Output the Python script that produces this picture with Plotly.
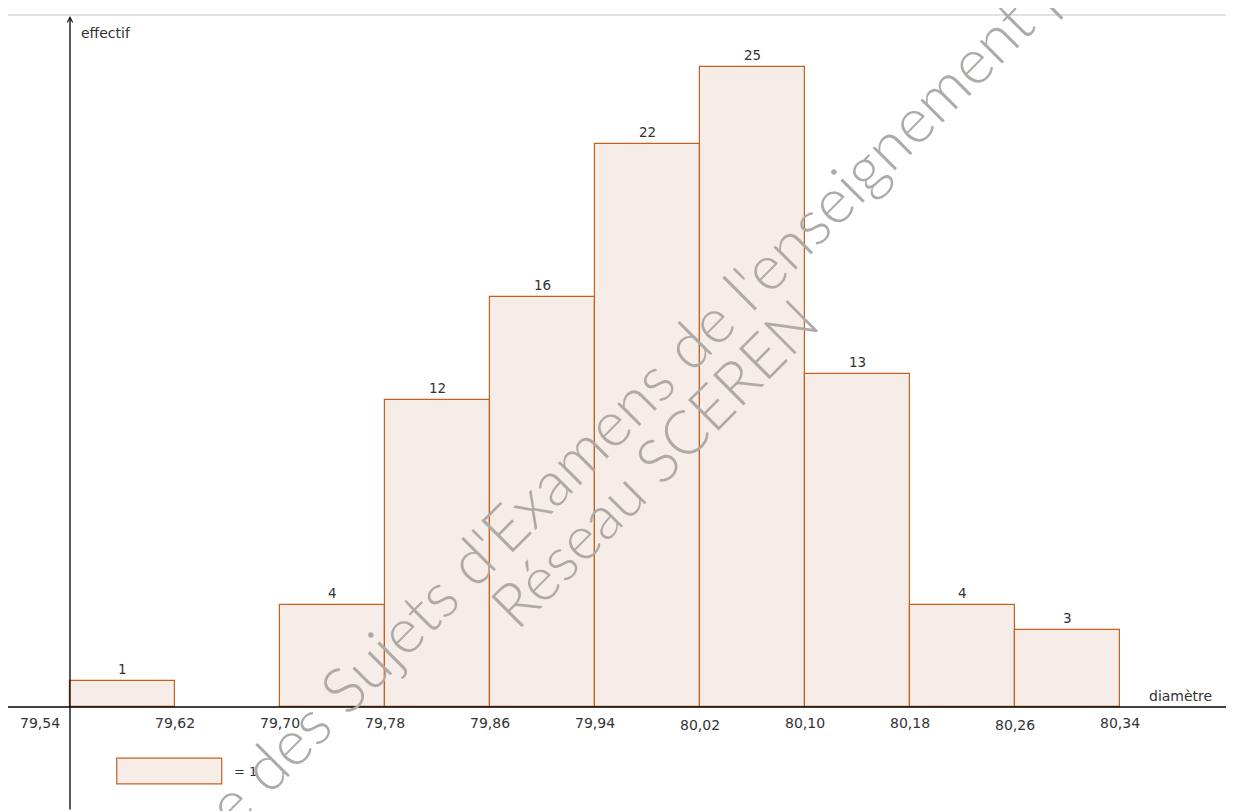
import plotly.graph_objects as go

# ---- data ----
bin_edges = [79.54, 79.62, 79.70, 79.78, 79.86, 79.94, 80.02, 80.10, 80.18, 80.26, 80.34]
counts = [1, 0, 4, 12, 16, 22, 25, 13, 4, 3]
tick_labels = ["79,54", "79,62", "79,70", "79,78", "79,86", "79,94",
               "80,02", "80,10", "80,18", "80,26", "80,34"]
bin_width = 0.08
unit_value = 1

# page body has an 8px margin, so the figure is 8px smaller on each axis
W, H = 1226, 803
FILL = "#f6ece8"
EDGE = "#c2621e"
TXT = "#333333"

x_min, x_max = 79.49276, 80.42686
y_min, y_max = -4.0625, 27.305

centers = [bin_edges[i] + bin_width / 2 for i in range(len(counts))]
bx = [c for c, v in zip(centers, counts) if v > 0]
by = [v for v in counts if v > 0]

fig = go.Figure()
fig.add_trace(go.Bar(
    x=bx, y=by, width=bin_width,
    marker=dict(color=FILL, line=dict(color=EDGE, width=1.2)),
    hoverinfo="x+y", showlegend=False,
))

annotations = []
for c, v in zip(bx, by):
    annotations.append(dict(x=c, y=v, xref="x", yref="y", text=str(v),
                            showarrow=False, yanchor="bottom", yshift=2,
                            font=dict(family="DejaVu Sans", size=13.5, color=TXT)))
for i, (e, lab) in enumerate(zip(bin_edges, tick_labels)):
    xs = -30 if i == 0 else 0
    ys = -2 if lab in ("80,02", "80,26") else 0
    annotations.append(dict(x=e, y=0, xref="x", yref="y", text=lab,
                            showarrow=False, yanchor="top", xshift=xs, yshift=-6 + ys,
                            font=dict(family="DejaVu Sans", size=14, color=TXT)))

# y axis with arrow
annotations.append(dict(x=bin_edges[0], y=y_max - 8 / 25.6, xref="x", yref="y",
                        ax=bin_edges[0], ay=y_min, axref="x", ayref="y",
                        showarrow=True, arrowhead=5, arrowsize=0.8, arrowwidth=1.3,
                        arrowcolor="#000000", text=""))
annotations.append(dict(x=bin_edges[0], y=y_max - 25 / 25.6, xref="x", yref="y",
                        text="effectif", showarrow=False, xanchor="left", xshift=9,
                        font=dict(family="DejaVu Sans", size=14, color=TXT)))
annotations.append(dict(x=x_max, y=0, xref="x", yref="y", text="diamètre",
                        showarrow=False, xanchor="right", yanchor="bottom", xshift=-20, yshift=1,
                        font=dict(family="DejaVu Sans", size=14, color=TXT)))
unit_x0 = 79.5756
annotations.append(dict(x=unit_x0 + bin_width, y=-2.5 * unit_value, xref="x", yref="y",
                        text="= 1", showarrow=False, xanchor="left", xshift=10,
                        font=dict(family="DejaVu Sans", size=13, color=TXT)))

# watermark (positions in figure pixels)
WM = "#aeaaa8"
annotations.append(dict(x=682 / W, y=1 - 332 / H, xref="paper", yref="paper",
                        text="Banque des Sujets d'Examens de l'enseignement professionnel",
                        showarrow=False, textangle=-45,
                        font=dict(family="Lato", size=63, color=WM, weight=300)))
annotations.append(dict(x=645 / W, y=1 - 454 / H, xref="paper", yref="paper",
                        text="Réseau SCEREN",
                        showarrow=False, textangle=-45,
                        font=dict(family="Lato", size=61, color=WM, weight=300)))

shapes = [
    dict(type="line", xref="paper", yref="y", x0=0, x1=1, y0=0, y1=0,
         line=dict(color="#000000", width=1.3), layer="above"),
    dict(type="line", xref="paper", yref="paper", x0=0, x1=1,
         y0=1 - 7 / H, y1=1 - 7 / H, line=dict(color="#d8d8d8", width=1.5)),
    dict(type="rect", xref="x", yref="y", x0=unit_x0, x1=unit_x0 + bin_width,
         y0=-3 * unit_value, y1=-2 * unit_value,
         fillcolor=FILL, line=dict(color=EDGE, width=1.2)),
]

fig.update_layout(
    width=W, height=H,
    margin=dict(l=0, r=0, t=0, b=0),
    paper_bgcolor="white", plot_bgcolor="white",
    xaxis=dict(range=[x_min, x_max], visible=False, fixedrange=True),
    yaxis=dict(range=[y_min, y_max], visible=False, fixedrange=True),
    bargap=0,
    annotations=annotations,
    shapes=shapes,
    showlegend=False,
)

fig.write_html("out.html")
